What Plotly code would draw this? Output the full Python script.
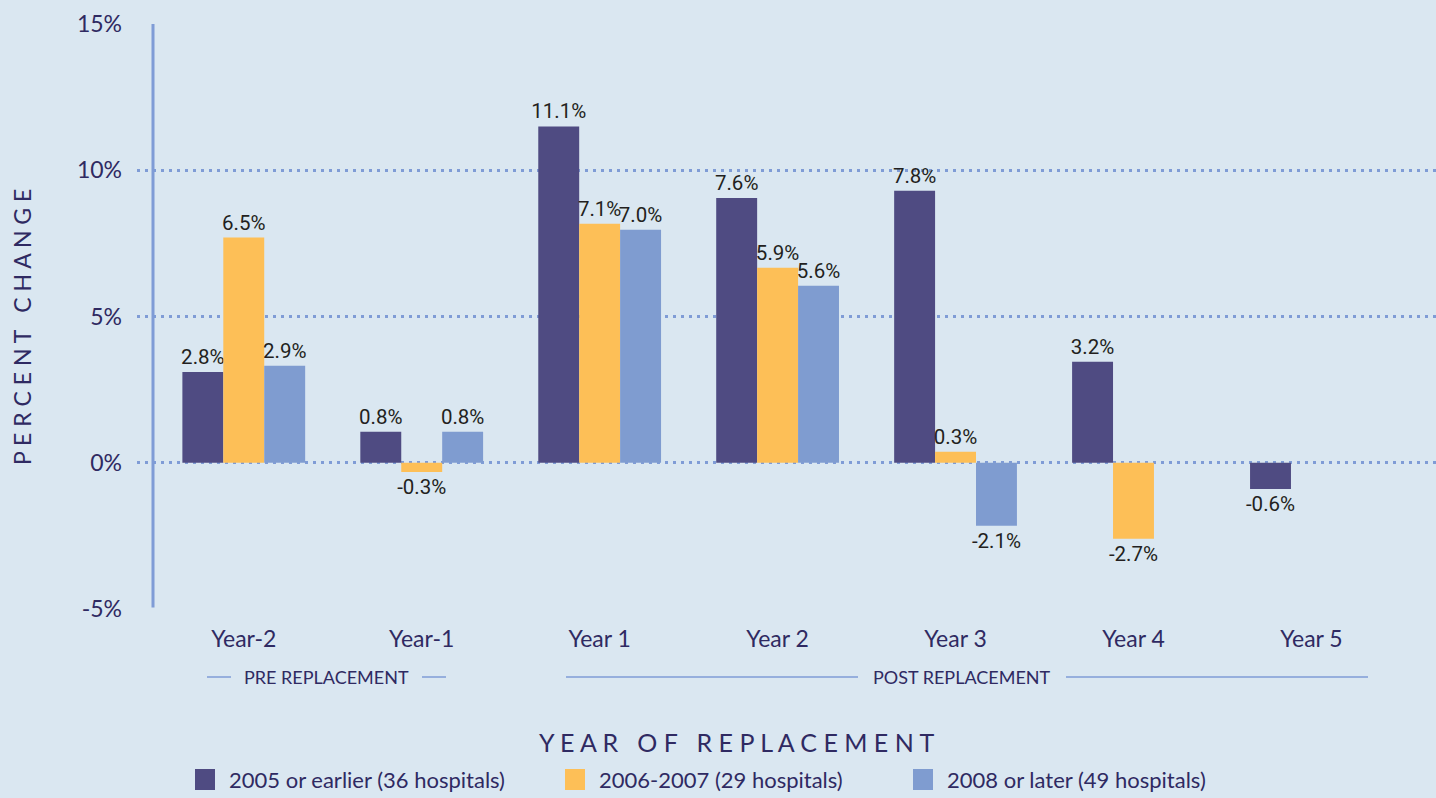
import plotly.graph_objects as go

# categories and series (bar heights as drawn, labels as printed)
years = ["Year-2", "Year-1", "Year 1", "Year 2", "Year 3", "Year 4", "Year 5"]
series_names = ["2005 or earlier (36 hospitals)",
                "2006-2007 (29 hospitals)",
                "2008 or later (49 hospitals)"]
early_vals = [3.1, 1.06, 11.5, 9.05, 9.3, 3.45, -0.9]
mid_vals = [7.7, -0.32, 8.17, 6.67, 0.38, -2.6, None]
late_vals = [3.32, 1.06, 7.97, 6.05, -2.15, None, None]
early_text = ["2.8%", "0.8%", "11.1%", "7.6%", "7.8%", "3.2%", "-0.6%"]
mid_text = ["6.5%", "-0.3%", "7.1%", "5.9%", "0.3%", "-2.7%", ""]
late_text = ["2.9%", "0.8%", "7.0%", "5.6%", "-2.1%", "", ""]
y_ticks = [-5, 0, 5, 10, 15]
y_tick_labels = ["-5%", "0%", "5%", "10%", "15%"]

colors = ["#4f4b82", "#fdbf57", "#7f9cd0"]
BG = "#dae7f1"
GRID = "#7f9cd6"
INK = "#2f2a62"

W, H = 1436, 798
L, R, T, B = 137, 0, 24, 189
PW, PH = W - L - R, H - T - B


def px(x):
    # pixel x -> paper x
    return (x - L) / PW


def py(y):
    # pixel y -> paper y
    return (H - B - y) / PH


fig = go.Figure()

for name, vals, txt, col in zip(series_names, [early_vals, mid_vals, late_vals],
                                [early_text, mid_text, late_text], colors):
    fig.add_trace(go.Bar(
        x=years, y=vals, name=name, text=txt,
        textposition="outside", constraintext="none", cliponaxis=False,
        textfont=dict(family="Roboto", size=20.5, color="#231f20"),
        marker=dict(color=col, line=dict(width=0)),
        showlegend=False,
    ))

shapes = []
# vertical axis line
shapes.append(dict(type="line", xref="paper", yref="y", x0=px(153), x1=px(153),
                   y0=-4.95, y1=15, line=dict(color=GRID, width=3)))

annotations = []


def note(text, x, y, size, xanchor="center", angle=0):
    annotations.append(dict(text=text, xref="paper", yref="paper", x=px(x), y=py(y),
                            xanchor=xanchor, yanchor="middle", textangle=angle,
                            showarrow=False, font=dict(family="Lato", size=size, color=INK)))


# group labels under the axis
for label, cx, segs in [("PRE REPLACEMENT", 326, [(207, 231), (422, 446)]),
                        ("POST REPLACEMENT", 962, [(566, 858), (1066, 1368)])]:
    note(label, cx, 677, 18)
    for a, b in segs:
        shapes.append(dict(type="line", xref="paper", yref="paper", x0=px(a), x1=px(b),
                           y0=py(677), y1=py(677), line=dict(color=GRID, width=1.5)))

# axis titles (letter-spaced)
note("P E R C E N T   C H A N G E", 22, 327, 23, angle=-90)
note("Y E A R   O F   R E P L A C E M E N T", 736, 742, 25)

# legend
for name, col, x0 in zip(series_names, colors, [195, 565, 913]):
    shapes.append(dict(type="rect", xref="paper", yref="paper", x0=px(x0), x1=px(x0 + 20),
                       y0=py(790), y1=py(769), fillcolor=col, line=dict(width=0)))
    note(name, x0 + 32, 779, 22, xanchor="left")

fig.update_layout(
    width=W, height=H,
    margin=dict(l=L, r=R, t=T, b=B),
    paper_bgcolor=BG, plot_bgcolor=BG,
    barmode="group", bargap=0.31, bargroupgap=0,
    shapes=shapes, annotations=annotations,
    xaxis=dict(type="category", range=[-0.6, 6.7], showgrid=False, showline=False,
               ticks="", ticklabelstandoff=14,
               tickfont=dict(family="Lato", size=23, color=INK)),
    yaxis=dict(range=[-5, 15], tickvals=y_ticks, ticktext=y_tick_labels,
               showgrid=True, gridcolor=GRID, gridwidth=2.5, griddash="3px,5px",
               zeroline=False, showline=False, ticks="", ticklabelstandoff=14,
               tickfont=dict(family="Lato", size=23, color=INK)),
)

fig.write_html("out.html", config={"displayModeBar": False},
               post_script="document.body.style.margin='0';")
